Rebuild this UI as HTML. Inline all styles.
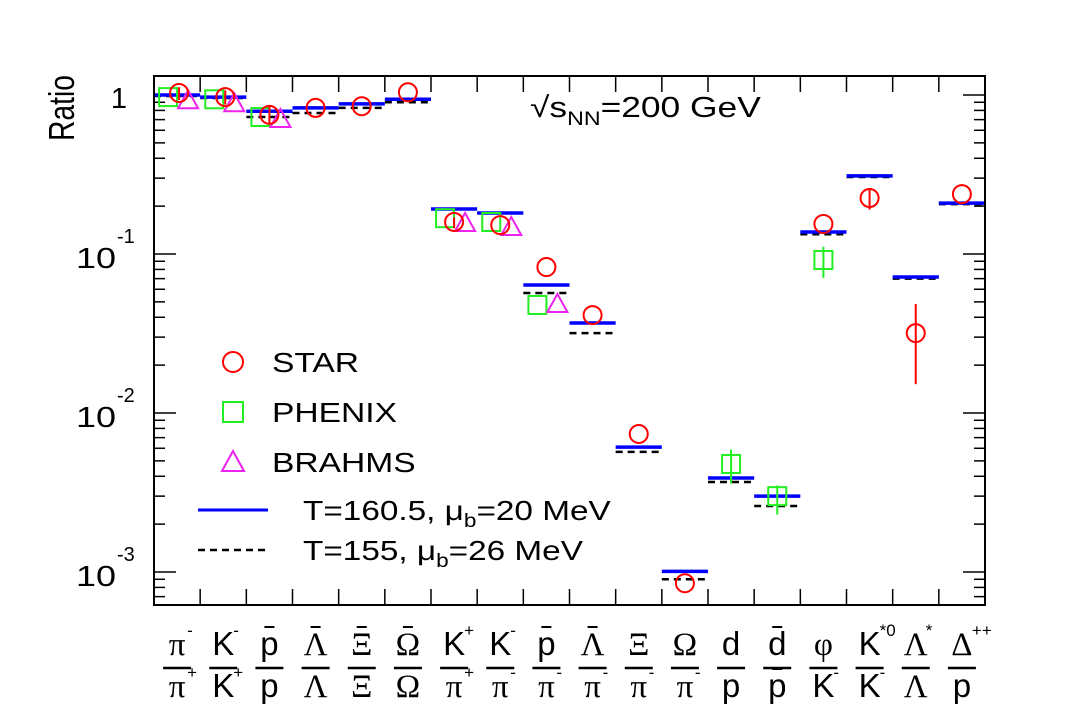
<!DOCTYPE html>
<html><head><meta charset="utf-8"><style>
html,body{margin:0;padding:0;background:#fff;}
svg{display:block;font-family:"Liberation Sans",sans-serif;}
</style></head><body>
<svg id="chart" width="1076" height="727" viewBox="0 0 1076 727" xmlns="http://www.w3.org/2000/svg">
<rect x="0" y="0" width="1076" height="727" fill="#fff"/>
<g id="ticks"></g>
<g id="marks"></g>
<rect x="154" y="76" width="831" height="529" fill="none" stroke="#000" stroke-width="2"/>
<text transform="translate(74,108) rotate(-90)" text-anchor="middle" font-size="36" textLength="66" lengthAdjust="spacingAndGlyphs">Ratio</text>
<text x="119" y="108" text-anchor="middle" font-size="29">1</text>
<g><text x="96" y="268" text-anchor="middle" font-size="29" textLength="40" lengthAdjust="spacingAndGlyphs">10</text><text x="117" y="243" font-size="20">-1</text></g>
<g><text x="96" y="427" text-anchor="middle" font-size="29" textLength="40" lengthAdjust="spacingAndGlyphs">10</text><text x="117" y="402" font-size="20">-2</text></g>
<g><text x="96" y="586" text-anchor="middle" font-size="29" textLength="40" lengthAdjust="spacingAndGlyphs">10</text><text x="117" y="561" font-size="20">-3</text></g>
<g font-size="29" transform="translate(530,117) scale(1.22,1)"><text x="0" y="0">√s<tspan font-size="19" dy="8">NN</tspan><tspan dy="-8">=200 GeV</tspan></text></g>
<g font-size="28">
<g><circle cx="233" cy="362" r="10" fill="none" stroke="#f00" stroke-width="2"/><text transform="translate(272,372) scale(1.2,1)">STAR</text></g>
<g><rect x="223" y="402" width="20" height="20" fill="none" stroke="#2e2" stroke-width="2"/><text transform="translate(272,422) scale(1.2,1)">PHENIX</text></g>
<g><path d="M233 451 L244 471 L222 471 Z" fill="none" stroke="#e2e" stroke-width="2"/><text transform="translate(272,472) scale(1.2,1)">BRAHMS</text></g>
<g><line x1="198" y1="510" x2="268" y2="510" stroke="#00f" stroke-width="3"/><text transform="translate(303,520) scale(1.19,1)">T=160.5, μ<tspan font-size="19" dy="7">b</tspan><tspan dy="-7">=20 MeV</tspan></text></g>
<g><line x1="198" y1="550" x2="268" y2="550" stroke="#000" stroke-width="2.5" stroke-dasharray="7,5"/><text transform="translate(303,560) scale(1.19,1)">T=155, μ<tspan font-size="19" dy="7">b</tspan><tspan dy="-7">=26 MeV</tspan></text></g>
</g>
<g id="xlabels"></g>
</svg>
<script>
const categories=["pim/pip","Km/Kp","pbar/p","Lbar/L","Xibar/Xi","Omegabar/Omega","Kp/pip","Km/pim","pbar/pim","Lbar/pim","Xi/pim","Omega/pim","d/p","dbar/pbar","phi/Km","K*0/Km","L*/L","Delta++/p"];
const model1=[1.00,0.97,0.79,0.83,0.88,0.94,0.192,0.181,0.0638,0.0368,0.0061,0.00101,0.0039,0.0030,0.1375,0.31,0.0717,0.209];
const model2=[0.985,0.957,0.727,0.77,0.83,0.90,0.192,0.181,0.0568,0.0318,0.00569,0.00090,0.00368,0.0026,0.133,0.305,0.070,0.206];
const starIdx=[0,1,2,3,4,5,6,7,8,9,10,11,14,15,16,17];
const starVal=[1.03,0.97,0.75,0.83,0.85,1.04,0.159,0.152,0.0828,0.0413,0.00738,0.00085,0.1545,0.225,0.0318,0.238];
const starLo=[0.93,0.87,0.66,0.83,0.85,1.04,0.145,0.152,0.0828,0.0413,0.00738,0.00085,0.1545,0.19,0.0152,0.238];
const starHi=[1.12,1.07,0.86,0.83,0.85,1.04,0.17,0.152,0.0828,0.0413,0.00738,0.00085,0.1545,0.26,0.0485,0.238];
const phenixIdx=[0,1,2,6,7,8,12,13,14];
const phenixVal=[0.97,0.94,0.727,0.168,0.159,0.0478,0.00478,0.0030,0.0917];
const phenixLo=[0.97,0.94,0.727,0.168,0.159,0.0478,0.0036,0.0023,0.0706];
const phenixHi=[0.97,0.94,0.727,0.168,0.159,0.0478,0.0059,0.0035,0.111];
const brahmsIdx=[0,1,2,6,7,8];
const brahmsVal=[0.94,0.90,0.717,0.159,0.150,0.0492];
const num2=["π","K","p","Λ","Ξ","Ω","K","K","p","Λ","Ξ","Ω","d","d","φ","K","Λ","Δ"];
const numSup=["-","-","","","","","+","-","","","","","","","","*0","*","++"];
const numBar=[0,0,1,1,1,1,0,0,1,1,0,0,0,1,0,0,0,0];
const den2=["π","K","p","Λ","Ξ","Ω","π","π","π","π","π","π","p","p","K","K","Λ","p"];
const denSup=["+","+","","","","","+","-","-","-","-","-","","","-","-","",""];
const denBar=[0,0,0,0,0,0,0,0,0,0,0,0,0,1,0,0,0,0];

const NS="http://www.w3.org/2000/svg";
const X0=154,W=831,Y1=95,DEC=159,N=categories.length;
const cw=W/N;
function xc(i){return X0+cw*(i+0.5);}
function y(v){return Y1-DEC*Math.log10(v);}
function mk(tag,attrs,parent){const e=document.createElementNS(NS,tag);for(const k in attrs)e.setAttribute(k,attrs[k]);parent.appendChild(e);return e;}
const T=document.getElementById('ticks'),M=document.getElementById('marks'),XL=document.getElementById('xlabels');
for(let d=-4;d<=0;d++){for(let m=1;m<=9;m++){const v=m*Math.pow(10,d);const yy=y(v);if(yy<77||yy>604)continue;const L=m==1?22:11;
const t1=mk('line',{x1:X0,x2:X0+L,y1:yy,y2:yy,stroke:'#000','stroke-width':1.5},T);


const t2=mk('line',{x1:985-L,x2:985,y1:yy,y2:yy,stroke:'#000','stroke-width':1.5},T);

}}
for(let i=1;i<N;i++){const xx=X0+cw*i;
const a=mk('line',{x1:xx,x2:xx,y1:76,y2:92,stroke:'#000','stroke-width':1.5},T);


const b=mk('line',{x1:xx,x2:xx,y1:589,y2:605,stroke:'#000','stroke-width':1.5},T);

}
model2.forEach((v,i)=>{const l=mk('line',{x1:X0+cw*i,x2:X0+cw*(i+1),y1:y(v),y2:y(v),stroke:'#000','stroke-width':2.5,'stroke-dasharray':'7,5'},M);

});
model1.forEach((v,i)=>{const l=mk('line',{x1:X0+cw*i,x2:X0+cw*(i+1),y1:y(v),y2:y(v),stroke:'#00f','stroke-width':3.5},M);

});
phenixIdx.forEach((c,k)=>{const off=(c<=8)?-9:0;const cx=xc(c)+off,cy=y(phenixVal[k]);
const g=mk('g',{},M);


mk('line',{x1:cx,x2:cx,y1:y(phenixHi[k]),y2:y(phenixLo[k]),stroke:'#2e2','stroke-width':2},g);
mk('rect',{x:cx-9,y:cy-9,width:18,height:18,fill:'none',stroke:'#2e2','stroke-width':2},g);});
brahmsIdx.forEach((c,k)=>{const cx=xc(c)+11,cy=y(brahmsVal[k]);
const p=mk('path',{d:`M${cx} ${cy-9} L${cx+10} ${cy+9} L${cx-10} ${cy+9} Z`,fill:'none',stroke:'#e2e','stroke-width':2},M);

});
starIdx.forEach((c,k)=>{const cx=xc(c)+(c<=1?2:0),cy=y(starVal[k]);
const g=mk('g',{},M);


mk('line',{x1:cx,x2:cx,y1:y(starHi[k]),y2:y(starLo[k]),stroke:'#f00','stroke-width':2},g);
mk('circle',{cx:cx,cy:cy,r:9,fill:'none',stroke:'#f00','stroke-width':2},g);});
const greek=/[πΛΞΩφΔ]/;
categories.forEach((c,i)=>{const cx=xc(i);
const g=mk('g',{},XL);


function part(txt,sup,bar,base){const fam=greek.test(txt)?'"Liberation Serif",serif':'"Liberation Sans",sans-serif';
const t=mk('text',{x:cx,y:base,'text-anchor':'middle','font-size':33,'font-family':fam},g);t.textContent=txt;
if(sup){const s=mk('text',{x:cx+10,y:base-19,'font-size':17},g);s.textContent=sup;}
if(bar){mk('line',{x1:cx-5,x2:cx+5,y1:base-28,y2:base-28,stroke:'#000','stroke-width':2},g);}}
part(num2[i],numSup[i],numBar[i],655);
mk('line',{x1:cx-14,x2:cx+14,y1:668,y2:668,stroke:'#000','stroke-width':2.5},g);
part(den2[i],denSup[i],denBar[i],697);
});
</script>
</body></html>
